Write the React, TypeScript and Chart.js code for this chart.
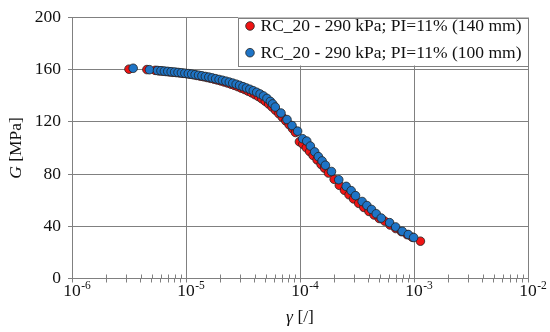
import React, { useEffect, useRef } from "react";
import { Chart, registerables } from "chart.js";

Chart.register(...registerables);

// ---- data ----
const seriesNames = [
  "RC_20 - 290 kPa; PI=11% (140 mm)",
  "RC_20 - 290 kPa; PI=11% (100 mm)",
];

// 140 mm specimen (red)
const gammaRed = [
  3.16e-6, 4.54e-6, 5.37e-6, 5.82e-6, 6.24e-6, 6.68e-6, 7.16e-6, 7.67e-6, 8.22e-6, 8.81e-6,
  9.44e-6, 1.012e-5, 1.084e-5, 1.161e-5, 1.245e-5, 1.334e-5, 1.429e-5, 1.531e-5, 1.641e-5, 1.758e-5,
  1.884e-5, 2.018e-5, 2.163e-5, 2.317e-5, 2.483e-5, 2.661e-5, 2.851e-5, 3.055e-5, 3.273e-5, 3.508e-5,
  3.758e-5, 4.027e-5, 4.315e-5, 4.624e-5, 4.955e-5, 5.309e-5, 5.689e-5, 6.095e-5, 6.531e-5, 6.998e-5,
  7.499e-5, 8.035e-5, 8.61e-5, 9.12e-5, 9.886e-5, 1.059e-4, 1.135e-4, 1.216e-4, 1.303e-4, 1.413e-4,
  1.531e-4, 1.641e-4, 1.778e-4, 1.995e-4, 2.213e-4, 2.455e-4, 2.692e-4, 2.951e-4, 3.273e-4, 3.631e-4,
  4.027e-4, 4.467e-4, 4.955e-4, 5.521e-4, 6.166e-4, 6.918e-4, 7.762e-4, 8.71e-4, 9.66e-4, 1.138e-3,
];
const gRed = [
  160.4, 160.1, 159.5, 159.1, 158.9, 158.6, 158.3, 158.0, 157.8, 157.5,
  157.2, 156.9, 156.5, 156.1, 155.6, 155.1, 154.6, 154.0, 153.4, 152.8,
  152.1, 151.4, 150.6, 149.8, 148.9, 148.0, 147.0, 145.9, 144.8, 143.6,
  142.3, 140.9, 139.4, 137.7, 135.8, 133.7, 131.4, 128.9, 126.3, 123.6,
  120.8, 117.9, 114.8, 111.9, 104.8, 102.9, 100.2, 97.3, 94.3, 90.9,
  87.4, 84.6, 80.8, 76.0, 71.4, 67.6, 64.2, 61.0, 57.6, 54.5,
  51.4, 48.7, 46.0, 44.0, 41.0, 38.3, 35.9, 33.6, 31.6, 28.6,
];

// 100 mm specimen (blue)
const gammaBlue = [
  3.44e-6, 4.78e-6, 5.62e-6, 6.03e-6, 6.46e-6, 6.92e-6, 7.41e-6, 7.94e-6, 8.51e-6, 9.12e-6,
  9.77e-6, 1.047e-5, 1.122e-5, 1.202e-5, 1.288e-5, 1.38e-5, 1.479e-5, 1.585e-5, 1.698e-5, 1.82e-5,
  1.95e-5, 2.089e-5, 2.239e-5, 2.399e-5, 2.57e-5, 2.754e-5, 2.951e-5, 3.162e-5, 3.388e-5, 3.631e-5,
  3.89e-5, 4.169e-5, 4.467e-5, 4.786e-5, 5.129e-5, 5.495e-5, 5.754e-5, 6.07e-5, 6.81e-5, 7.69e-5,
  8.51e-5, 9.53e-5, 1.054e-4, 1.146e-4, 1.233e-4, 1.346e-4, 1.449e-4, 1.563e-4, 1.671e-4, 1.888e-4,
  2.188e-4, 2.541e-4, 2.812e-4, 3.069e-4, 3.508e-4, 3.864e-4, 4.246e-4, 4.667e-4, 5.164e-4, 6.109e-4,
  6.902e-4, 7.889e-4, 8.913e-4, 9.93e-4,
];
const gBlue = [
  161.1, 160.0, 159.4, 159.2, 158.9, 158.7, 158.4, 158.2, 157.9, 157.6,
  157.3, 157.0, 156.6, 156.2, 155.8, 155.3, 154.8, 154.3, 153.7, 153.1,
  152.5, 151.9, 151.2, 150.5, 149.7, 148.9, 148.0, 147.0, 146.0, 145.0,
  143.9, 142.7, 141.4, 139.9, 138.0, 135.7, 133.8, 131.4, 126.8, 121.8,
  117.2, 112.9, 107.1, 105.3, 101.5, 97.0, 93.4, 90.1, 86.8, 82.0,
  75.7, 70.6, 67.3, 63.5, 59.0, 55.9, 52.9, 49.6, 46.3, 42.8,
  39.5, 36.2, 33.7, 31.4,
];

// axes
const xMajorExponents = [-6, -5, -4, -3, -2];
const xMinorMultipliers = [2, 3, 4, 5, 6, 7, 8, 9];
const yTickValues = [0, 40, 80, 120, 160, 200];

// ---- styles ----
const SERIF = '"Liberation Serif", "Times New Roman", serif';
const GRID = "#808080";
const RED = "#F01414";
const BLUE = "#1E74C6";
const EDGE = "#222222";
const TXT = "#111111";
const R = 4.3;

const isMajor = (v: number) => {
  const l = Math.log10(v);
  return Math.abs(l - Math.round(l)) < 1e-6;
};

const decoPlugin = {
  id: "deco",
  afterDraw(chart: any) {
    const ctx = chart.ctx as CanvasRenderingContext2D;
    const xs = chart.scales.x;
    const area = chart.chartArea;
    ctx.save();

    // minor tick marks crossing the x axis (upper half)
    ctx.strokeStyle = GRID;
    ctx.lineWidth = 1;
    for (const t of xs.ticks) {
      if (!isMajor(t.value)) {
        const px = Math.round(xs.getPixelForValue(t.value)) + 0.5;
        ctx.beginPath();
        ctx.moveTo(px, area.bottom - 4);
        ctx.lineTo(px, area.bottom);
        ctx.stroke();
      }
    }

    // x tick labels 10^n
    ctx.fillStyle = TXT;
    for (const e of xMajorExponents) {
      const px = xs.getPixelForValue(Math.pow(10, e));
      ctx.font = `17.5px ${SERIF}`;
      ctx.textAlign = "center";
      ctx.textBaseline = "alphabetic";
      const w = ctx.measureText("10").width;
      ctx.fillText("10", px, area.bottom + 17);
      ctx.font = `11.5px ${SERIF}`;
      ctx.textAlign = "left";
      ctx.fillText(String(e), px + w / 2 + 0.5, area.bottom + 10);
    }

    // x axis title: γ [/]
    {
      const cx = (area.left + area.right) / 2;
      const y = 322;
      ctx.font = `italic 17.5px ${SERIF}`;
      const w1 = ctx.measureText("γ").width;
      ctx.font = `17.5px ${SERIF}`;
      const w2 = ctx.measureText(" [/]").width;
      const x = cx - (w1 + w2) / 2;
      ctx.textAlign = "left";
      ctx.font = `italic 17.5px ${SERIF}`;
      ctx.fillText("γ", x, y);
      ctx.font = `17.5px ${SERIF}`;
      ctx.fillText(" [/]", x + w1, y);
    }

    // y axis title: G [MPa]
    {
      const cy = (area.top + area.bottom) / 2;
      ctx.save();
      ctx.translate(21, cy);
      ctx.rotate(-Math.PI / 2);
      ctx.font = `italic 17.5px ${SERIF}`;
      const w1 = ctx.measureText("G").width;
      ctx.font = `17.5px ${SERIF}`;
      const w2 = ctx.measureText(" [MPa]").width;
      const x = -(w1 + w2) / 2;
      ctx.textAlign = "left";
      ctx.textBaseline = "alphabetic";
      ctx.font = `italic 17.5px ${SERIF}`;
      ctx.fillText("G", x, 0);
      ctx.font = `17.5px ${SERIF}`;
      ctx.fillText(" [MPa]", x + w1, 0);
      ctx.restore();
    }

    // legend box
    {
      const right = area.right;
      const left = 238;
      const top = area.top;
      const bottom = 65.5;
      ctx.fillStyle = "#ffffff";
      ctx.fillRect(left, top, right - left, bottom - top);
      ctx.strokeStyle = GRID;
      ctx.lineWidth = 1;
      ctx.strokeRect(Math.round(left) + 0.5, Math.round(top) + 0.5, Math.round(right - left), Math.round(bottom - top));
      const rows = [26, 52.7];
      const cols = [RED, BLUE];
      rows.forEach((ry, i) => {
        ctx.beginPath();
        ctx.arc(250, ry, R, 0, Math.PI * 2);
        ctx.fillStyle = cols[i];
        ctx.fill();
        ctx.strokeStyle = EDGE;
        ctx.lineWidth = 0.8;
        ctx.stroke();
        ctx.fillStyle = TXT;
        ctx.font = `17.5px ${SERIF}`;
        ctx.textAlign = "left";
        ctx.textBaseline = "middle";
        ctx.fillText(seriesNames[i], 260.5, ry + 0.5);
      });
    }

    ctx.restore();
  },
};

export default function App() {
  const ref = useRef<HTMLCanvasElement | null>(null);

  useEffect(() => {
    if (!ref.current) return;
    const redData = gammaRed.map((x, i) => ({ x, y: gRed[i] }));
    const blueData = gammaBlue.map((x, i) => ({ x, y: gBlue[i] }));
    const chart = new Chart(ref.current, {
      type: "scatter",
      data: {
        datasets: [
          {
            label: seriesNames[0],
            data: redData,
            backgroundColor: RED,
            borderColor: EDGE,
            borderWidth: 0.8,
            pointRadius: R,
            order: 2,
          },
          {
            label: seriesNames[1],
            data: blueData,
            backgroundColor: BLUE,
            borderColor: EDGE,
            borderWidth: 0.8,
            pointRadius: R,
            order: 1,
          },
        ],
      },
      options: {
        animation: false,
        responsive: true,
        maintainAspectRatio: false,
        events: [],
        layout: { padding: { top: 12.7, right: 22, left: 0, bottom: 0 } },
        plugins: {
          legend: { display: false },
          tooltip: { enabled: false },
        },
        scales: {
          x: {
            type: "logarithmic",
            min: 1e-6,
            max: 1e-2,
            afterBuildTicks: (scale: any) => {
              const t: any[] = [];
              xMajorExponents.forEach((e, k) => {
                t.push({ value: Math.pow(10, e), major: true });
                if (k < xMajorExponents.length - 1) {
                  xMinorMultipliers.forEach((m) => t.push({ value: m * Math.pow(10, e), major: false }));
                }
              });
              scale.ticks = t;
            },
            afterFit: (scale: any) => {
              scale.height = 53.5;
            },
            ticks: { display: false, autoSkip: false },
            grid: {
              color: (c: any) => (c.tick && isMajor(c.tick.value) ? GRID : "rgba(0,0,0,0)"),
              tickColor: GRID,
              tickLength: 4,
              lineWidth: 1,
            },
            border: { display: true, color: GRID, width: 1 },
          },
          y: {
            type: "linear",
            min: 0,
            max: 200,
            afterBuildTicks: (scale: any) => {
              scale.ticks = yTickValues.map((v) => ({ value: v }));
            },
            afterFit: (scale: any) => {
              scale.width = 72;
            },
            ticks: {
              color: TXT,
              font: { family: SERIF, size: 17.5 },
              padding: 7,
            },
            grid: {
              color: GRID,
              tickColor: GRID,
              tickLength: 4,
              lineWidth: 1,
            },
            border: { display: true, color: GRID, width: 1 },
          },
        },
      },
      plugins: [decoPlugin],
    } as any);
    return () => chart.destroy();
  }, []);

  return (
    <div style={{ position: "fixed", left: 0, top: 0, width: 550, height: 332, background: "#fff" }}>
      <canvas ref={ref} />
    </div>
  );
}
